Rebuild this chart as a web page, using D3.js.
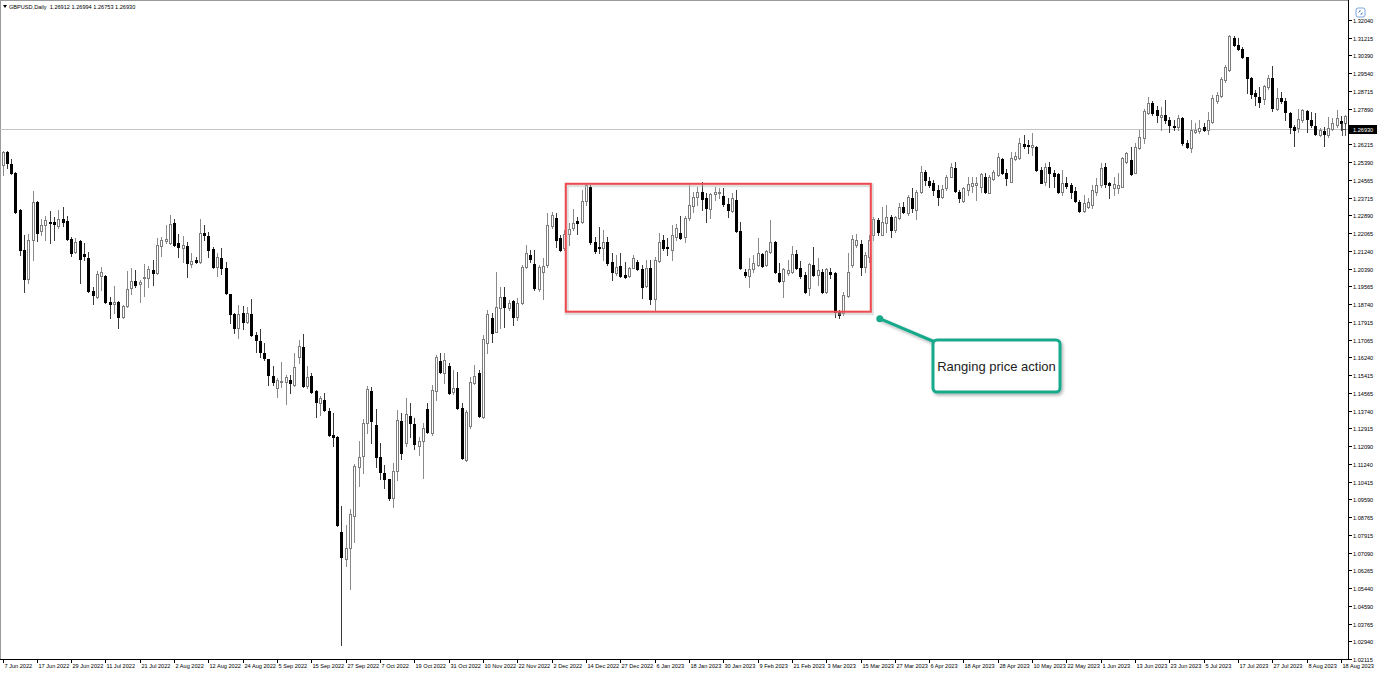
<!DOCTYPE html>
<html><head><meta charset="utf-8">
<script src="https://cdn.jsdelivr.net/npm/d3@7/dist/d3.min.js"></script>
<style>html,body{margin:0;padding:0;background:#fff;}svg{display:block;}</style>
</head><body>
<svg id="chart" width="1377" height="676"></svg>
<script>
const symbolTitle = "GBPUSD,Daily  1.26912 1.26994 1.26753 1.26930";
const lastPrice = 1.26930;

const open = [1.2526,1.2587,1.2530,1.2488,1.2315,1.2128,1.1992,1.2175,1.2353,1.2217,1.2245,1.2259,1.2259,1.2240,1.2273,1.2264,1.2180,1.2119,1.2170,1.2109,
1.2091,1.1936,1.1908,1.2006,1.2006,1.1885,1.1875,1.1885,1.1814,1.1866,1.1950,1.1983,1.1969,1.1997,1.1997,1.2034,1.2020,1.2147,1.2170,1.2161,
1.2254,1.2161,1.2137,1.2147,1.2062,1.2081,1.2072,1.2208,1.2194,1.2133,1.2048,1.2091,1.2044,1.1922,1.1828,1.1763,1.1833,1.1791,1.1828,1.1730,
1.1702,1.1646,1.1618,1.1538,1.1482,1.1510,1.1510,1.1520,1.1496,1.1627,1.1674,1.1492,1.1538,1.1468,1.1412,1.1426,1.1374,1.1262,1.1253,1.0804,
1.0682,1.0733,1.0883,1.1112,1.1164,1.1318,1.1468,1.1309,1.1159,1.1084,1.1056,1.0967,1.1094,1.1328,1.1225,1.1351,1.1314,1.1211,1.1234,1.1384,
1.1272,1.1468,1.1608,1.1552,1.1585,1.1463,1.1482,1.1389,1.1145,1.1304,1.1506,1.1552,1.1346,1.1693,1.1810,1.1744,1.1857,1.1908,1.1857,1.1889,
1.1814,1.1880,1.2048,1.2105,1.2062,1.1945,1.2025,1.2058,1.2240,1.2278,1.2184,1.2137,1.2203,1.2231,1.2264,1.2259,1.2357,1.2423,1.2166,1.2142,
1.2137,1.2166,1.2072,1.2020,1.2053,1.2011,1.2006,1.2044,1.2072,1.2039,1.1960,1.2044,1.1899,1.2076,1.2175,1.2142,1.2128,1.2189,1.2208,1.2189,
1.2278,1.2334,1.2376,1.2399,1.2371,1.2320,1.2390,1.2395,1.2381,1.2343,1.2310,1.2362,1.2217,1.2025,1.2006,1.2039,1.2058,1.2109,1.2058,1.2119,
1.2166,1.2020,1.1983,1.2020,1.2025,1.2109,1.2044,1.2011,1.1950,1.2058,1.2011,1.2025,1.1932,1.2025,1.2020,1.1838,1.1833,1.1913,1.2058,1.2151,
1.2156,1.2048,1.2095,1.2198,1.2268,1.2198,1.2254,1.2282,1.2222,1.2278,1.2329,1.2301,1.2371,1.2315,1.2399,1.2493,1.2451,1.2442,1.2409,1.2376,
1.2418,1.2470,1.2512,1.2399,1.2357,1.2409,1.2428,1.2432,1.2423,1.2470,1.2395,1.2460,1.2479,1.2554,1.2488,1.2446,1.2554,1.2558,1.2624,1.2619,
1.2610,1.2610,1.2502,1.2446,1.2516,1.2488,1.2483,1.2399,1.2442,1.2432,1.2404,1.2353,1.2310,1.2329,1.2339,1.2399,1.2432,1.2516,1.2442,1.2418,
1.2418,1.2423,1.2540,1.2549,1.2488,1.2605,1.2652,1.2769,1.2816,1.2783,1.2750,1.2760,1.2736,1.2708,1.2704,1.2746,1.2629,1.2605,1.2680,1.2685,
1.2704,1.2690,1.2727,1.2825,1.2849,1.2924,1.2970,1.3120,1.3087,1.3069,1.3031,1.2933,1.2863,1.2844,1.2835,1.2891,1.2933,1.2788,1.2839,1.2825,
1.2769,1.2704,1.2699,1.2736,1.2779,1.2736,1.2708,1.2666,1.2685,1.2666,1.2694,1.2713,1.2731,1.2722];

const high = [1.2591,1.2591,1.2554,1.2493,1.2320,1.2198,1.2203,1.2404,1.2357,1.2273,1.2287,1.2310,1.2282,1.2315,1.2329,1.2287,1.2189,1.2184,1.2175,1.2161,
1.2119,1.1955,1.2030,1.2048,1.2011,1.1908,1.1960,1.1889,1.1871,1.2030,1.2044,1.2034,1.1988,1.2062,1.2053,1.2081,1.2184,1.2189,1.2245,1.2292,
1.2273,1.2203,1.2194,1.2166,1.2114,1.2095,1.2273,1.2245,1.2212,1.2142,1.2114,1.2137,1.2072,1.1922,1.1833,1.1871,1.1866,1.1861,1.1899,1.1744,
1.1758,1.1693,1.1618,1.1585,1.1529,1.1604,1.1543,1.1543,1.1646,1.1707,1.1735,1.1585,1.1552,1.1473,1.1445,1.1459,1.1389,1.1365,1.1258,1.0930,
1.0841,1.0916,1.1126,1.1234,1.1337,1.1492,1.1487,1.1384,1.1225,1.1122,1.1056,1.1131,1.1379,1.1365,1.1435,1.1412,1.1342,1.1253,1.1318,1.1412,
1.1496,1.1637,1.1646,1.1646,1.1599,1.1566,1.1557,1.1412,1.1379,1.1534,1.1590,1.1566,1.1730,1.1847,1.1833,1.2025,1.1955,1.1955,1.1894,1.1894,
1.1903,1.2058,1.2151,1.2128,1.2128,1.2058,1.2091,1.2301,1.2306,1.2301,1.2198,1.2222,1.2254,1.2320,1.2282,1.2409,1.2442,1.2432,1.2189,1.2236,
1.2222,1.2189,1.2114,1.2105,1.2114,1.2072,1.2048,1.2105,1.2081,1.2058,1.2081,1.2081,1.2095,1.2208,1.2198,1.2184,1.2245,1.2250,1.2287,1.2287,
1.2432,1.2399,1.2423,1.2446,1.2395,1.2395,1.2423,1.2418,1.2418,1.2371,1.2395,1.2409,1.2259,1.2039,1.2091,1.2105,1.2184,1.2114,1.2128,1.2268,
1.2170,1.2067,1.2044,1.2081,1.2147,1.2128,1.2076,1.2025,1.2067,1.2142,1.2091,1.2039,1.2044,1.2044,1.2025,1.1847,1.1932,1.2114,1.2198,1.2203,
1.2175,1.2119,1.2198,1.2282,1.2278,1.2329,1.2339,1.2292,1.2287,1.2348,1.2353,1.2385,1.2418,1.2409,1.2521,1.2502,1.2470,1.2456,1.2432,1.2432,
1.2479,1.2535,1.2540,1.2409,1.2423,1.2470,1.2470,1.2470,1.2488,1.2488,1.2479,1.2502,1.2582,1.2558,1.2507,1.2587,1.2587,1.2652,1.2666,1.2643,
1.2676,1.2615,1.2516,1.2535,1.2540,1.2502,1.2488,1.2502,1.2470,1.2442,1.2423,1.2362,1.2385,1.2371,1.2432,1.2465,1.2535,1.2535,1.2446,1.2470,
1.2488,1.2563,1.2587,1.2610,1.2629,1.2690,1.2788,1.2844,1.2825,1.2802,1.2797,1.2830,1.2750,1.2736,1.2760,1.2750,1.2643,1.2736,1.2722,1.2736,
1.2722,1.2774,1.2853,1.2867,1.2938,1.2994,1.3134,1.3130,1.3120,1.3078,1.3031,1.2938,1.2877,1.2891,1.2900,1.2947,1.2989,1.2886,1.2867,1.2839,
1.2774,1.2713,1.2788,1.2788,1.2783,1.2774,1.2769,1.2699,1.2704,1.2750,1.2746,1.2783,1.2755,1.2760];

const low = [1.2479,1.2512,1.2483,1.2301,1.2105,1.1932,1.1974,1.2081,1.2170,1.2198,1.2175,1.2161,1.2175,1.2231,1.2240,1.2175,1.2100,1.2114,1.1974,1.2081,
1.1932,1.1875,1.1903,1.1941,1.1880,1.1810,1.1833,1.1763,1.1810,1.1861,1.1922,1.1955,1.1885,1.1913,1.1955,1.1964,1.2016,1.2100,1.2161,1.2156,
1.2147,1.2095,1.2072,1.2002,1.2048,1.2067,1.2067,1.2175,1.2095,1.2044,1.2006,1.2016,1.1922,1.1786,1.1740,1.1716,1.1758,1.1786,1.1725,1.1651,
1.1627,1.1613,1.1496,1.1496,1.1440,1.1487,1.1407,1.1459,1.1492,1.1599,1.1487,1.1482,1.1459,1.1346,1.1356,1.1374,1.1258,1.1211,1.0836,1.0279,
1.0649,1.0541,1.0761,1.1024,1.1084,1.1272,1.1225,1.1112,1.1056,1.1014,1.0958,1.0925,1.1052,1.1150,1.1211,1.1253,1.1197,1.1169,1.1061,1.1272,
1.1262,1.1426,1.1552,1.1506,1.1454,1.1454,1.1384,1.1150,1.1140,1.1295,1.1501,1.1346,1.1342,1.1646,1.1698,1.1744,1.1763,1.1768,1.1847,1.1777,
1.1800,1.1875,1.2044,1.2072,1.1941,1.1936,1.1899,1.2048,1.2231,1.2142,1.2123,1.2128,1.2151,1.2222,1.2203,1.2254,1.2339,1.2156,1.2114,1.2114,
1.2081,1.2058,1.1988,1.2011,1.2002,1.1997,1.2002,1.2044,1.2034,1.1903,1.1955,1.1875,1.1843,1.2072,1.2128,1.2105,1.2081,1.2175,1.2180,1.2166,
1.2268,1.2306,1.2339,1.2315,1.2259,1.2278,1.2362,1.2371,1.2334,1.2282,1.2306,1.2212,1.2039,1.2002,1.1955,1.2025,1.2053,1.2048,1.2053,1.2114,
1.2020,1.1978,1.1908,1.2011,1.2020,1.2039,1.1997,1.1927,1.1918,1.2006,1.1964,1.1927,1.1927,1.1997,1.1814,1.1810,1.1824,1.1908,1.2048,1.2142,
1.2011,1.2025,1.2072,1.2175,1.2198,1.2198,1.2212,1.2189,1.2212,1.2273,1.2301,1.2292,1.2306,1.2273,1.2395,1.2432,1.2423,1.2385,1.2339,1.2371,
1.2409,1.2470,1.2399,1.2353,1.2353,1.2385,1.2399,1.2362,1.2399,1.2395,1.2395,1.2456,1.2474,1.2483,1.2432,1.2446,1.2549,1.2554,1.2605,1.2582,
1.2573,1.2498,1.2442,1.2432,1.2423,1.2423,1.2395,1.2385,1.2418,1.2371,1.2353,1.2306,1.2306,1.2325,1.2325,1.2385,1.2423,1.2423,1.2371,1.2385,
1.2395,1.2423,1.2535,1.2479,1.2488,1.2601,1.2629,1.2764,1.2760,1.2727,1.2690,1.2722,1.2680,1.2690,1.2690,1.2619,1.2605,1.2587,1.2676,1.2676,
1.2685,1.2671,1.2722,1.2816,1.2844,1.2914,1.2966,1.3083,1.3064,1.3027,1.2863,1.2839,1.2807,1.2797,1.2811,1.2881,1.2779,1.2783,1.2816,1.2736,
1.2676,1.2615,1.2680,1.2727,1.2680,1.2704,1.2666,1.2662,1.2615,1.2657,1.2690,1.2704,1.2690,1.2713];

const close = [1.2587,1.2535,1.2488,1.2306,1.2128,1.1992,1.2175,1.2353,1.2208,1.2245,1.2268,1.2254,1.2250,1.2273,1.2259,1.2180,1.2114,1.2166,1.2086,1.2100,
1.1936,1.1918,1.2016,1.2025,1.1885,1.1875,1.1885,1.1814,1.1866,1.1945,1.1983,1.1964,1.1978,1.2002,1.2039,1.2020,1.2151,1.2175,1.2180,1.2250,
1.2151,1.2142,1.2151,1.2067,1.2076,1.2072,1.2208,1.2198,1.2128,1.2048,1.2095,1.2044,1.1927,1.1828,1.1763,1.1828,1.1791,1.1833,1.1730,1.1707,
1.1651,1.1622,1.1543,1.1510,1.1520,1.1515,1.1534,1.1506,1.1580,1.1679,1.1492,1.1534,1.1463,1.1417,1.1435,1.1379,1.1262,1.1253,1.0841,1.0687,
1.0733,1.0892,1.1117,1.1159,1.1318,1.1477,1.1328,1.1159,1.1089,1.1056,1.0967,1.1094,1.1332,1.1178,1.1360,1.1318,1.1220,1.1234,1.1295,1.1276,
1.1473,1.1627,1.1557,1.1613,1.1459,1.1482,1.1389,1.1154,1.1370,1.1510,1.1538,1.1351,1.1712,1.1828,1.1740,1.1861,1.1908,1.1861,1.1880,1.1814,
1.1880,1.2048,1.2114,1.2086,1.1950,1.2048,1.2053,1.2245,1.2292,1.2175,1.2128,1.2203,1.2226,1.2254,1.2254,1.2357,1.2432,1.2166,1.2123,1.2137,
1.2166,1.2067,1.2025,1.2048,1.2006,1.2002,1.2044,1.2091,1.2039,1.1955,1.2044,1.1899,1.2081,1.2166,1.2137,1.2137,1.2198,1.2231,1.2184,1.2278,
1.2339,1.2376,1.2399,1.2367,1.2325,1.2390,1.2399,1.2399,1.2343,1.2315,1.2371,1.2217,1.2044,1.2011,1.2039,1.2067,1.2114,1.2053,1.2123,1.2166,
1.2025,1.1983,1.2039,1.2034,1.2109,1.2044,1.2006,1.1932,1.2062,1.2011,1.2034,1.1932,1.2039,1.2016,1.1838,1.1824,1.1918,1.2025,1.2180,1.2175,
1.2048,1.2105,1.2175,1.2273,1.2212,1.2259,1.2282,1.2222,1.2282,1.2329,1.2306,1.2376,1.2325,1.2399,1.2493,1.2456,1.2432,1.2409,1.2376,1.2414,
1.2470,1.2516,1.2404,1.2371,1.2418,1.2437,1.2442,1.2442,1.2483,1.2399,1.2470,1.2493,1.2563,1.2488,1.2465,1.2558,1.2568,1.2629,1.2615,1.2615,
1.2619,1.2502,1.2442,1.2516,1.2488,1.2474,1.2399,1.2442,1.2428,1.2399,1.2357,1.2310,1.2348,1.2353,1.2409,1.2432,1.2512,1.2437,1.2432,1.2437,
1.2432,1.2558,1.2582,1.2483,1.2610,1.2657,1.2779,1.2816,1.2769,1.2760,1.2760,1.2736,1.2713,1.2704,1.2746,1.2629,1.2610,1.2690,1.2690,1.2699,
1.2690,1.2736,1.2839,1.2853,1.2928,1.2984,1.3130,1.3087,1.3069,1.3031,1.2933,1.2858,1.2849,1.2821,1.2896,1.2933,1.2793,1.2839,1.2825,1.2774,
1.2704,1.2690,1.2741,1.2783,1.2741,1.2713,1.2671,1.2690,1.2671,1.2699,1.2722,1.2746,1.2722,1.2755];

const dateLabels = ["7 Jun 2022","17 Jun 2022","29 Jun 2022","11 Jul 2022","21 Jul 2022","2 Aug 2022","12 Aug 2022","24 Aug 2022","5 Sep 2022","15 Sep 2022",
"27 Sep 2022","7 Oct 2022","19 Oct 2022","31 Oct 2022","10 Nov 2022","22 Nov 2022","2 Dec 2022","14 Dec 2022","27 Dec 2022","6 Jan 2023",
"18 Jan 2023","30 Jan 2023","9 Feb 2023","21 Feb 2023","3 Mar 2023","15 Mar 2023","27 Mar 2023","6 Apr 2023","18 Apr 2023","28 Apr 2023",
"10 May 2023","22 May 2023","1 Jun 2023","13 Jun 2023","23 Jun 2023","5 Jul 2023","17 Jul 2023","27 Jul 2023","8 Aug 2023","18 Aug 2023"];
const barsPerDateLabel = 8;

const priceTicks = ["1.32040","1.31215","1.30390","1.29540","1.28715","1.27890","1.26215","1.25390","1.24565","1.23715","1.22890","1.22065",
"1.21240","1.20390","1.19565","1.18740","1.17915","1.17065","1.16240","1.15415","1.14565","1.13740","1.12915","1.12090","1.11240","1.10415",
"1.09590","1.08765","1.07915","1.07090","1.06265","1.05440","1.04590","1.03765","1.02940","1.02115"];

// annotation: ranging box (bar index range and price range) and callout
const rangeBox = {from: 131.3, to: 202.4, top: 1.2437, bottom: 1.1838};
const calloutText = "Ranging price action";
const calloutAnchor = {index: 204.5, price: 1.1805};

const svg = d3.select("#chart");
const W = 1377, H = 676;
const plotRight = 1348, plotBottom = 659;

const x = d3.scaleLinear().domain([0, open.length - 1]).range([2.5, 2.5 + 4.29 * (open.length - 1)]);
const y = d3.scaleLinear().domain([1.02115, 1.32040]).range([659, 20]);

const defs = svg.append("defs");
const f = defs.append("filter").attr("id","shadow").attr("x","-10%").attr("y","-10%").attr("width","130%").attr("height","140%");
f.append("feDropShadow").attr("dx",1.5).attr("dy",2).attr("stdDeviation",1.5).attr("flood-color","#000").attr("flood-opacity",0.3);
defs.append("clipPath").attr("id","plotclip").append("rect").attr("x",0).attr("y",0).attr("width",plotRight).attr("height",plotBottom);

svg.append("rect").attr("width",W).attr("height",H).attr("fill","#fff");

// frame
svg.append("line").attr("x1",0.5).attr("x2",0.5).attr("y1",0).attr("y2",plotBottom).attr("stroke","#9a9a9a");
svg.append("line").attr("x1",0).attr("x2",plotRight).attr("y1",0.5).attr("y2",0.5).attr("stroke","#9a9a9a");

// current price line
svg.append("line").attr("x1",0).attr("x2",plotRight).attr("y1",Math.round(y(lastPrice))+0.5).attr("y2",Math.round(y(lastPrice))+0.5)
  .attr("stroke","#c4c4c4").attr("stroke-width",1);

// candles
const data = open.map((o,i)=>({i, o, h: high[i], l: low[i], c: close[i]}));
const g = svg.append("g").attr("clip-path","url(#plotclip)");
const cg = g.selectAll("g.c").data(data).join("g");
cg.append("line")
  .attr("x1", d=>Math.round(x(d.i))+0.5).attr("x2", d=>Math.round(x(d.i))+0.5)
  .attr("y1", d=>Math.round(y(d.h))).attr("y2", d=>Math.round(y(d.l))+1)
  .attr("stroke", d=> d.c>=d.o ? "#8a8a8a" : "#3a3a3a").attr("stroke-width",1);
cg.each(function(d){
  const cx = Math.round(x(d.i));
  const top = Math.round(y(Math.max(d.o,d.c)));
  let bot = Math.round(y(Math.min(d.o,d.c)));
  if (d.c >= d.o) {
    const hgt = Math.max(bot-top, 1);
    d3.select(this).append("rect").attr("x",cx-0.5).attr("y",top+0.5).attr("width",2).attr("height",hgt)
      .attr("fill","#fff").attr("stroke","#7c7c7c").attr("stroke-width",1);
  } else {
    const hgt = Math.max(bot-top, 1);
    d3.select(this).append("rect").attr("x",cx-1).attr("y",top).attr("width",3).attr("height",hgt+1)
      .attr("fill","#000");
  }
});

// axes lines
svg.append("line").attr("x1",plotRight+0.5).attr("x2",plotRight+0.5).attr("y1",0).attr("y2",plotBottom+1).attr("stroke","#000");
svg.append("line").attr("x1",0).attr("x2",plotRight+1).attr("y1",plotBottom+0.5).attr("y2",plotBottom+0.5).attr("stroke","#000");

// price axis
const pa = svg.append("g");
priceTicks.forEach(t=>{
  const yy = Math.round(y(+t))+0.5;
  pa.append("line").attr("x1",plotRight+1).attr("x2",plotRight+4).attr("y1",yy).attr("y2",yy).attr("stroke","#000");
  pa.append("text").attr("x",plotRight+5).attr("y",yy+2).text(t)
    .attr("font-family","Liberation Sans, Arial, sans-serif").attr("font-size",5.6).attr("fill","#000");
});
// current price tag
const ly = Math.round(y(lastPrice));
pa.append("rect").attr("x",plotRight+1).attr("y",ly-4).attr("width",W-plotRight-1).attr("height",9).attr("fill","#000");
pa.append("text").attr("x",plotRight+5).attr("y",ly+2.5).text(lastPrice.toFixed(5))
  .attr("font-family","Liberation Sans, Arial, sans-serif").attr("font-size",5.6).attr("fill","#fff");
// small price marker glyph
pa.append("path").attr("d",`M${plotRight-5.5},${ly-6} V${ly+7} M${plotRight-5.5},${ly+0.5} H${plotRight-2} M${plotRight-2.5},${ly-6} V${ly+7}`)
  .attr("stroke","#333").attr("fill","none").attr("stroke-width",0.8);

// date axis
const da = svg.append("g");
dateLabels.forEach((t,k)=>{
  const xx = Math.round(x(k*barsPerDateLabel))+0.5;
  da.append("line").attr("x1",xx).attr("x2",xx).attr("y1",plotBottom+1).attr("y2",plotBottom+4).attr("stroke","#000");
  da.append("text").attr("x",xx+1).attr("y",plotBottom+9).text(t)
    .attr("font-family","Liberation Sans, Arial, sans-serif").attr("font-size",5.6).attr("fill","#000");
});

// title
svg.append("path").attr("d","M3,5 L7,5 L5,8 Z").attr("fill","#000");
svg.append("text").attr("x",9).attr("y",8.5).text(symbolTitle).attr("xml:space","preserve")
  .style("white-space","pre")
  .attr("font-family","Liberation Sans, Arial, sans-serif").attr("font-size",5.6).attr("fill","#000");

// top-right icon
const ic = svg.append("g").attr("transform","translate(1356,8)");
ic.append("rect").attr("x",0).attr("y",0).attr("width",9).attr("height",9).attr("rx",2).attr("fill","#fff").attr("stroke","#5b8fd6").attr("stroke-width",0.8);
ic.append("path").attr("d","M2.5,4.5 L4.5,2.5 M4.5,6.5 L6.5,4.5 M3,3 h1.5 M5,6 h1.5").attr("stroke","#3a6fc0").attr("stroke-width",0.8);

// ranging box
const rb = svg.append("g");
const rx0 = x(rangeBox.from), rx1 = x(rangeBox.to), ry0 = y(rangeBox.top), ry1 = y(rangeBox.bottom);
rb.append("rect").attr("x",rx0).attr("y",ry0).attr("width",rx1-rx0).attr("height",ry1-ry0)
  .attr("fill","none").attr("stroke","#b8b8b8").attr("stroke-width",4).attr("opacity",0.45)
  .attr("transform","translate(1,1.5)");
rb.append("rect").attr("x",rx0).attr("y",ry0).attr("width",rx1-rx0).attr("height",ry1-ry0)
  .attr("fill","none").attr("stroke","#f0484c").attr("stroke-width",2);

// callout
const teal = "#19a98b";
const ax = x(calloutAnchor.index), ay = y(calloutAnchor.price);
const bx = 933, by = 340, bw = 127, bh = 52;
const cgp = svg.append("g");
cgp.append("line").attr("x1",ax).attr("y1",ay).attr("x2",bx+2).attr("y2",by+2)
  .attr("stroke",teal).attr("stroke-width",3).attr("filter","url(#shadow)");
cgp.append("circle").attr("cx",ax).attr("cy",ay).attr("r",3.5).attr("fill",teal);
cgp.append("rect").attr("x",bx).attr("y",by).attr("width",bw).attr("height",bh).attr("rx",4)
  .attr("fill","#fff").attr("stroke",teal).attr("stroke-width",3).attr("filter","url(#shadow)");
cgp.append("text").attr("x",bx+bw/2).attr("y",by+bh/2+4.5).attr("text-anchor","middle").text(calloutText)
  .attr("font-family","Liberation Sans, Arial, sans-serif").attr("font-size",13).attr("fill","#222");
</script>
</body></html>
